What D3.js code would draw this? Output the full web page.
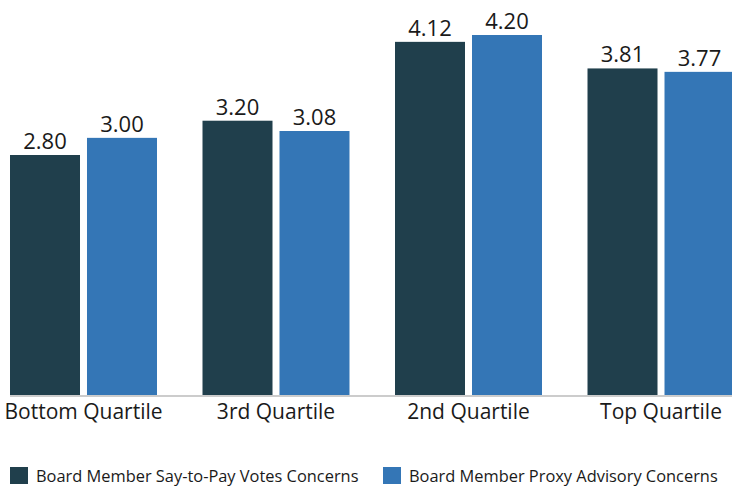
<!DOCTYPE html>
<html>
<head>
<meta charset="utf-8">
<script src="https://cdn.jsdelivr.net/npm/d3@7"></script>
<style>
    body { margin: 0; background: #fff; }
    svg { display: block; font-family: "Open Sans", sans-serif; }
</style>
</head>
<body>
<div id="chart"></div>
<script>
const categories = ['Bottom Quartile', '3rd Quartile', '2nd Quartile', 'Top Quartile'];
const seriesNames = ['Board Member Say-to-Pay Votes Concerns', 'Board Member Proxy Advisory Concerns'];
const sayToPay = [2.80, 3.20, 4.12, 3.81];
const proxyAdvisory = [3.00, 3.08, 4.20, 3.77];
const colors = ['#203f4c', '#3476b6'];

const width = 732, height = 488;
const svg = d3.select('#chart').append('svg')
    .attr('width', width)
    .attr('height', height);

const rows = categories.map((c, i) => ({ category: c, values: [sayToPay[i], proxyAdvisory[i]] }));

const x = d3.scaleBand().domain(categories).range([10, 734.5]).paddingInner(0.2364).paddingOuter(0);
const xInner = d3.scaleBand().domain([0, 1]).range([0, x.bandwidth()]).paddingInner(0.0909);
const y = d3.scaleLinear().domain([0, 4.2]).range([395, 35]);

// bars + value labels
const group = svg.selectAll('g.group').data(rows).enter().append('g')
    .attr('class', 'group')
    .attr('transform', d => `translate(${x(d.category)},0)`);

group.selectAll('rect').data(d => d.values).enter().append('rect')
    .attr('x', (d, i) => xInner(i))
    .attr('y', d => y(d))
    .attr('width', xInner.bandwidth())
    .attr('height', d => y(0) - y(d))
    .attr('fill', (d, i) => colors[i]);

group.selectAll('text').data(d => d.values).enter().append('text')
    .attr('x', (d, i) => xInner(i) + xInner.bandwidth() / 2)
    .attr('y', d => y(d) - 6)
    .attr('text-anchor', 'middle')
    .attr('font-size', 22)
    .attr('fill', '#1a1a1a')
    .text(d => d.toFixed(2));

// baseline
svg.append('line')
    .attr('x1', 10).attr('x2', width)
    .attr('y1', y(0) + 1).attr('y2', y(0) + 1)
    .attr('stroke', '#cccccc')
    .attr('stroke-width', 2);

// category axis
const xAxis = svg.append('g')
    .attr('transform', `translate(0,${y(0) + 2})`)
    .call(d3.axisBottom(x).tickSize(0).tickPadding(7));
xAxis.select('.domain').remove();
xAxis.selectAll('text')
    .attr('font-size', 21)
    .attr('font-family', '"Open Sans", sans-serif')
    .attr('fill', '#1a1a1a');

// legend
const legendX = [10, 383];
const legend = svg.selectAll('g.legend').data(seriesNames).enter().append('g')
    .attr('class', 'legend')
    .attr('transform', (d, i) => `translate(${legendX[i]},467)`);
legend.append('rect')
    .attr('width', 18).attr('height', 17)
    .attr('fill', (d, i) => colors[i]);
legend.append('text')
    .attr('x', 26).attr('y', 15)
    .attr('font-size', 16.4)
    .attr('fill', '#1a1a1a')
    .text(d => d);
</script>
</body>
</html>
